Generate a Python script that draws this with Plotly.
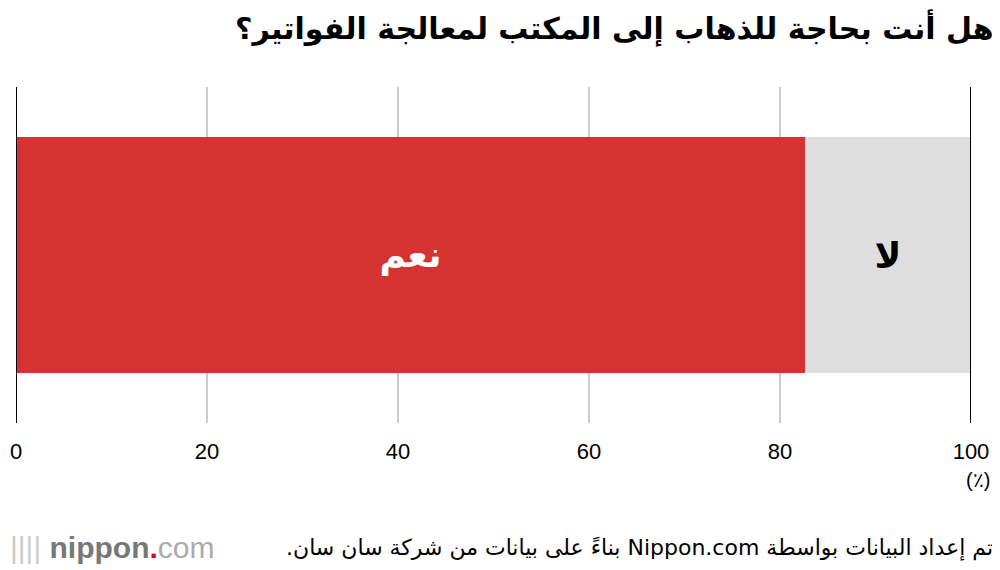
import plotly.graph_objects as go

question = ["q"]
answers = ["نعم", "لا"]
shares = [82.6, 17.4]
colors = ["#d73232", "#dedede"]
text_colors = ["white", "black"]
x_ticks = [0, 20, 40, 60, 80, 100]

title = "هل أنت بحاجة للذهاب إلى المكتب لمعالجة الفواتير؟"
source = "تم إعداد البيانات بواسطة Nippon.com بناءً على بيانات من شركة سان سان."

fig = go.Figure()
for name, val, col, tcol in zip(answers, shares, colors, text_colors):
    fig.add_trace(go.Bar(
        y=question, x=[val], name=name, orientation="h",
        marker=dict(color=col, line_width=0),
        text=["<b>" + name + "</b>"], textposition="inside",
        insidetextanchor="middle",
        textfont=dict(family="DejaVu Sans", size=36, color=tcol),
        hoverinfo="skip",
    ))

for x in (0, 100):
    fig.add_vline(x=x, line=dict(color="black", width=2))

# page body adds an 8px offset, margins compensate for it
fig.update_layout(
    width=1000, height=570,
    barmode="stack", bargap=0.3, showlegend=False,
    plot_bgcolor="white", paper_bgcolor="white",
    margin=dict(l=8, r=37, t=79, b=155, autoexpand=False),
    font=dict(family="Liberation Sans, Arial", color="black"),
    xaxis=dict(range=[0, 100], tickvals=x_ticks, showgrid=True,
               gridcolor="#cccccc", gridwidth=2, zeroline=False,
               tickfont=dict(size=22), ticklabelstandoff=13,
               automargin=False, fixedrange=True),
    yaxis=dict(range=[-0.5, 0.5], showticklabels=False, showgrid=False,
               zeroline=False, automargin=False, fixedrange=True),
)

fig.add_annotation(text="<b>" + title + "</b>", xref="paper", yref="paper",
                   x=1.025, y=1.176, xanchor="right", yanchor="middle",
                   showarrow=False,
                   font=dict(family="DejaVu Sans", size=30, color="black"))
fig.add_annotation(text="(٪)", xref="x", yref="paper", x=100, y=-0.17,
                   xanchor="center", yanchor="middle", showarrow=False,
                   xshift=7, font=dict(size=20))
fig.add_annotation(text="\u202b" + source + "\u202c", xref="paper",
                   yref="paper", x=1.025, y=-0.372, xanchor="right",
                   yanchor="middle", showarrow=False,
                   font=dict(family="DejaVu Sans", size=22, color="black"))
fig.add_annotation(
    text="<span style='color:#cccccc'>||||</span> <b>nippon</b>"
         "<span style='color:#e60012'><b>.</b></span>"
         "<span style='color:#aaaaaa'>com</span>",
    xref="paper", yref="paper", x=-0.008, y=-0.372,
    xanchor="left", yanchor="middle", showarrow=False,
    font=dict(family="Liberation Sans, Arial", size=30, color="#777777"))

fig.write_html("out.html")
